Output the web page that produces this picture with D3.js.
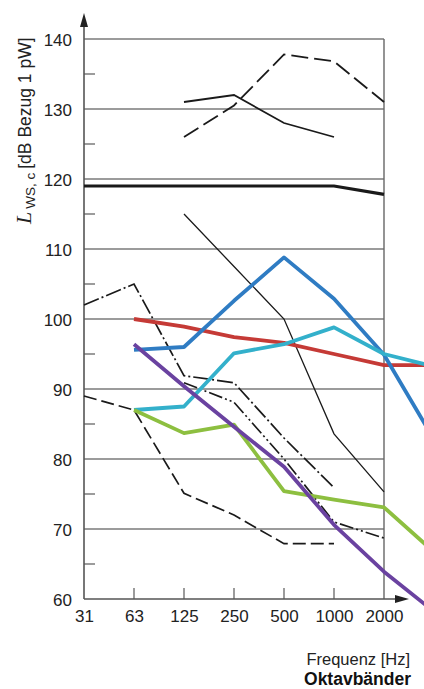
<!DOCTYPE html>
<html>
<head>
<meta charset="utf-8">
<script src="https://cdn.jsdelivr.net/npm/d3@7"></script>
<style>
  body { margin: 0; background: #fff; }
  svg { display: block; font-family: "Liberation Sans", Arial, sans-serif; }
  .tick text { fill: #222; }
</style>
</head>
<body>
<div id="chart"></div>
<script>
// octave bands (4000 only exists so the lines run off the right edge)
const bands = ["31", "63", "125", "250", "500", "1000", "2000", "4000"];
const xLabels = ["31", "63", "125", "250", "500", "1000", "2000"];
const yMajor = [60, 70, 80, 90, 100, 110, 120, 130, 140];
const yMinor = [65, 75, 85, 95, 105, 115, 125, 135];

// black reference curves
const thinTop   = [["125", 131], ["250", 132], ["500", 128], ["1000", 126]];
const dashTop   = [["125", 126], ["250", 130.5], ["500", 137.8], ["1000", 136.8], ["2000", 131]];
const thick119  = [["31", 119], ["63", 119], ["125", 119], ["250", 119], ["500", 119], ["1000", 119], ["2000", 117.8]];
const thinFall  = [["125", 115], ["250", 107.5], ["500", 100], ["1000", 83.6], ["2000", 75.3]];
const dashDotA  = [["31", 102], ["63", 105], ["125", 91.9], ["250", 90.9], ["500", 83], ["1000", 75.9]];
const dashDotB  = [["125", 90.9], ["250", 88.1], ["500", 80], ["1000", 71], ["2000", 68.7]];
const dashLow   = [["31", 89], ["63", 87], ["125", 75.1], ["250", 72], ["500", 67.9], ["1000", 67.9]];

// coloured curves
const red    = [["63", 100], ["125", 98.9], ["250", 97.4], ["500", 96.6], ["1000", 95], ["2000", 93.4], ["4000", 93.4]];
const blue   = [["63", 95.6], ["125", 96], ["250", 102.6], ["500", 108.8], ["1000", 102.9], ["2000", 94.9], ["4000", 82.8]];
const cyan   = [["63", 87], ["125", 87.5], ["250", 95.1], ["500", 96.4], ["1000", 98.8], ["2000", 95], ["4000", 93.2]];
const green  = [["63", 87], ["125", 83.7], ["250", 84.9], ["500", 75.4], ["1000", 74.2], ["2000", 73.1], ["4000", 66.7]];
const purple = [["63", 96.4], ["125", 90.4], ["250", 84.6], ["500", 78.9], ["1000", 70.6], ["2000", 63.9], ["4000", 58.2]];

const W = 424, H = 689;

const svg = d3.select("#chart").append("svg")
  .attr("width", W)
  .attr("height", H);

const x = d3.scalePoint().domain(bands).range([84, 434]).padding(0);
const y = d3.scaleLinear().domain([60, 140]).range([599, 39]);

const line = d3.line().x(d => x(d[0])).y(d => y(d[1]));

// grid lines
svg.append("g")
  .selectAll("line")
  .data(yMajor.filter(v => v > 60))
  .enter().append("line")
    .attr("x1", x("31")).attr("x2", x("2000"))
    .attr("y1", d => y(d)).attr("y2", d => y(d))
    .attr("stroke", "#7a7a7a")
    .attr("stroke-width", 1.3);

// right border at 2000 Hz
svg.append("line")
  .attr("x1", x("2000")).attr("x2", x("2000"))
  .attr("y1", y(140)).attr("y2", y(60))
  .attr("stroke", "#666").attr("stroke-width", 1.4);

// minor y ticks
svg.append("g")
  .selectAll("line")
  .data(yMinor)
  .enter().append("line")
    .attr("x1", x("31")).attr("x2", x("31") + 11)
    .attr("y1", d => y(d)).attr("y2", d => y(d))
    .attr("stroke", "#666").attr("stroke-width", 1.3);

// x ticks
svg.append("g")
  .selectAll("line")
  .data(["63", "125", "250", "500", "1000"])
  .enter().append("line")
    .attr("x1", d => x(d)).attr("x2", d => x(d))
    .attr("y1", y(60)).attr("y2", y(60) - 11)
    .attr("stroke", "#666").attr("stroke-width", 1.3);

// y axis labels
const yAxis = svg.append("g")
  .attr("transform", "translate(" + x("31") + ",0)")
  .call(d3.axisLeft(y).tickValues(yMajor).tickSize(0).tickPadding(12));
yAxis.select(".domain").remove();
yAxis.selectAll("text").style("font-size", "17px").attr("dy", "0.36em");

// x axis labels
const xAxis = svg.append("g")
  .attr("transform", "translate(0," + y(60) + ")")
  .call(d3.axisBottom(x).tickValues(xLabels).tickSize(0).tickPadding(11));
xAxis.select(".domain").remove();
xAxis.selectAll("text").style("font-size", "17px");

// axis lines with arrows
svg.append("line")
  .attr("x1", x("31")).attr("x2", x("31"))
  .attr("y1", y(60)).attr("y2", 22)
  .attr("stroke", "#555").attr("stroke-width", 1.6);
svg.append("path")
  .attr("d", "M" + x("31") + ",13 L" + (x("31") - 4) + ",27 L" + (x("31") + 4) + ",27 Z")
  .attr("fill", "#222");

svg.append("line")
  .attr("x1", x("31")).attr("x2", 398)
  .attr("y1", y(60)).attr("y2", y(60))
  .attr("stroke", "#555").attr("stroke-width", 1.6);
svg.append("path")
  .attr("d", "M409," + y(60) + " L395," + (y(60) - 4) + " L395," + (y(60) + 4) + " Z")
  .attr("fill", "#222");

// black curves
const blacks = [
  {d: thinTop,  w: 1.8, dash: null},
  {d: dashTop,  w: 1.8, dash: "17,6"},
  {d: thick119, w: 3.2, dash: null},
  {d: thinFall, w: 1.3, dash: null},
  {d: dashDotA, w: 1.7, dash: "16,3,2,3"},
  {d: dashDotB, w: 1.7, dash: "14,3,2,3,2,3"},
  {d: dashLow,  w: 1.7, dash: "13,5"}
];
svg.append("g")
  .selectAll("path")
  .data(blacks)
  .enter().append("path")
    .attr("d", d => line(d.d))
    .attr("fill", "none")
    .attr("stroke", "#1a1a1a")
    .attr("stroke-width", d => d.w)
    .attr("stroke-dasharray", d => d.dash);

// coloured curves
const colours = [
  {d: red,    c: "#c53a36"},
  {d: blue,   c: "#2f7cc3"},
  {d: cyan,   c: "#33b0cb"},
  {d: green,  c: "#8dbf40"},
  {d: purple, c: "#6a42a0"}
];
svg.append("g")
  .selectAll("path")
  .data(colours)
  .enter().append("path")
    .attr("d", d => line(d.d))
    .attr("fill", "none")
    .attr("stroke", d => d.c)
    .attr("stroke-width", 3.8)
    .attr("stroke-linejoin", "round");

// y axis title
const yt = svg.append("text")
  .attr("transform", "translate(31,224) rotate(-90)")
  .attr("fill", "#222");
yt.append("tspan")
  .style("font-family", "'Liberation Serif', 'Times New Roman', serif")
  .style("font-style", "italic")
  .style("font-size", "22px")
  .text("L");
yt.append("tspan")
  .attr("dx", 3).attr("dy", 4)
  .style("font-size", "13.5px")
  .text("WS, c");
yt.append("tspan")
  .attr("dx", 4).attr("dy", -4)
  .style("font-size", "17.5px")
  .text("[dB Bezug 1 pW]");

// x axis title
svg.append("text")
  .attr("x", 410).attr("y", 665)
  .attr("text-anchor", "end")
  .style("font-size", "16.5px")
  .attr("fill", "#222")
  .text("Frequenz [Hz]");
svg.append("text")
  .attr("x", 411).attr("y", 685)
  .attr("text-anchor", "end")
  .style("font-size", "17.5px")
  .style("font-weight", "bold")
  .attr("fill", "#111")
  .text("Oktavbänder");
</script>
</body>
</html>
